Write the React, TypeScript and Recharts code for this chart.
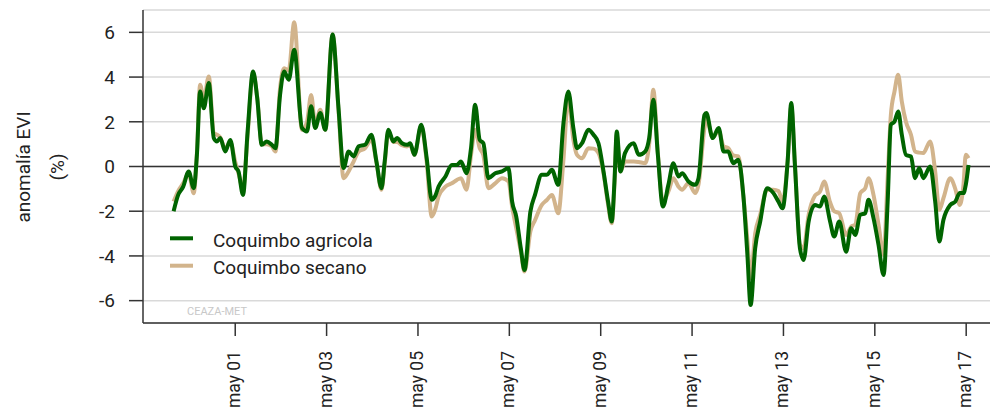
import React from 'react';
import { LineChart, Line, XAxis, YAxis, CartesianGrid, ReferenceLine, Legend, Label } from 'recharts';

// decimal-year sample times
const times = [
  1999.98, 2000.08, 2000.19, 2000.31, 2000.42, 2000.49, 2000.56, 2000.64, 2000.75, 2000.86,
  2000.93, 2001.00, 2001.11, 2001.22, 2001.33, 2001.40, 2001.50, 2001.60, 2001.72, 2001.81,
  2001.91, 2002.02, 2002.13, 2002.21, 2002.31, 2002.40, 2002.50, 2002.62, 2002.79, 2002.90,
  2002.99, 2003.08, 2003.19, 2003.30, 2003.46, 2003.59, 2003.70, 2003.81, 2003.92, 2004.03,
  2004.17, 2004.31, 2004.42, 2004.53, 2004.60, 2004.68, 2004.79, 2004.87, 2004.98, 2005.09,
  2005.16, 2005.25, 2005.40, 2005.52, 2005.63, 2005.71, 2005.78, 2005.93, 2006.07, 2006.18,
  2006.27, 2006.39, 2006.49, 2006.58, 2006.68, 2006.76, 2006.87, 2007.02, 2007.17, 2007.31,
  2007.39, 2007.48, 2007.58, 2007.66, 2007.79, 2007.89, 2008.04, 2008.15, 2008.26, 2008.40,
  2008.51, 2008.62, 2008.73, 2008.81, 2008.92, 2009.06, 2009.17, 2009.28, 2009.39, 2009.49,
  2009.57, 2009.63, 2009.68, 2009.76, 2009.86, 2010.05, 2010.16, 2010.30, 2010.39, 2010.48,
  2010.58, 2010.69, 2010.81, 2010.92, 2011.03, 2011.11, 2011.25, 2011.40, 2011.47, 2011.60,
  2011.64, 2011.78, 2011.91, 2012.02, 2012.12, 2012.23, 2012.34, 2012.45, 2012.54, 2012.61,
  2012.71, 2012.82, 2012.97, 2013.11, 2013.22, 2013.31, 2013.42, 2013.50, 2013.58, 2013.69,
  2013.77, 2013.88, 2014.02, 2014.13, 2014.22, 2014.35, 2014.44, 2014.55, 2014.70, 2014.81,
  2014.90, 2015.01, 2015.12, 2015.19, 2015.30, 2015.41, 2015.52, 2015.61, 2015.68, 2015.76,
  2015.84, 2015.92, 2016.01, 2016.12, 2016.21, 2016.30, 2016.39, 2016.54, 2016.65, 2016.74,
  2016.83, 2016.98, 2017.09, 2017.19, 2017.27, 2017.32, 2017.38,
];

const agricola = [
  -2.0, -1.27, -0.9, -0.22, -0.97, 0.52, 3.36, 2.6, 3.73, 1.27,
  1.12, 1.27, 0.67, 1.19, 0.0, -0.22, -1.27, 1.57, 4.25, 3.06,
  0.97, 1.12, 0.97, 0.82, 3.2, 4.25, 3.88, 5.22, 1.72, 1.57,
  2.69, 1.72, 2.39, 1.64, 5.9, 2.6, -0.07, 0.67, 0.45, 0.9,
  0.97, 1.42, 0.22, -0.97, 0.22, 1.64, 1.12, 1.27, 1.04, 0.97,
  1.04, 0.52, 1.87, 0.37, -1.49, -1.3, -0.9, -0.45, 0.07, 0.07,
  0.22, -0.3, 0.82, 2.76, 1.19, 1.04, -0.52, -0.3, -0.22, -0.07,
  -1.57, -2.24, -3.66, -4.63, -2.01, -1.27, -0.37, -0.37, -0.15, -0.82,
  1.87, 3.36, 1.72, 0.82, 1.04, 1.64, 1.42, 1.04, -0.22, -1.57,
  -2.46, -0.67, 1.57, -0.22, 0.6, 1.04, 0.52, 0.67, 1.27, 2.99,
  0.52, -1.79, -0.82, 0.15, -0.45, -0.3, -0.67, -0.82, -0.52, 2.31,
  2.39, 1.27, 1.72, 0.67, 0.67, 0.15, 0.3, -1.27, -3.96, -6.2,
  -3.66, -2.46, -0.97, -1.19, -1.57, -1.87, 0.22, 2.84, 0.07, -3.66,
  -4.18, -2.46, -1.72, -1.79, -1.34, -2.46, -3.13, -2.46, -3.81, -2.76,
  -3.06, -2.16, -2.09, -1.49, -2.31, -3.51, -4.85, -1.57, 1.87, 2.01,
  2.46, 1.42, 0.52, 0.45, -0.52, -0.07, -0.52, 0.0, -1.57, -3.36,
  -2.39, -1.72, -1.57, -1.19, -1.19, -0.82, 0.07,
];

const secano = [
  -1.57, -1.1, -0.75, -0.3, -1.2, 0.6, 3.66, 3.0, 4.03, 1.5,
  1.42, 1.3, 0.8, 1.1, 0.2, -0.3, -1.0, 1.4, 4.18, 3.1,
  1.0, 1.0, 0.9, 0.67, 3.5, 4.4, 4.3, 6.45, 1.64, 2.0,
  3.2, 1.87, 2.54, 1.64, 5.9, 2.5, -0.52, -0.22, 0.22, 0.67,
  0.82, 1.2, 0.2, -1.04, 0.1, 1.57, 1.1, 1.1, 0.95, 0.9,
  0.95, 0.52, 1.8, 0.2, -2.24, -1.9, -1.34, -0.9, -0.75, -0.6,
  -0.52, -1.04, 0.52, 1.64, 0.82, 0.5, -0.97, -0.75, -0.52, -0.67,
  -1.8, -2.76, -3.8, -4.7, -2.9, -2.4, -1.72, -1.5, -1.27, -2.09,
  0.22, 3.1, 1.2, 0.52, 0.37, 0.82, 0.8, 0.6, -0.3, -1.7,
  -2.54, -0.8, 1.42, -0.22, 0.22, 0.22, 0.2, 0.15, 1.0, 3.43,
  0.6, -1.57, -1.12, -0.52, -0.9, -1.04, -0.75, -1.19, -0.8, 1.72,
  2.16, 1.3, 1.6, 0.9, 0.82, 0.5, 0.45, -1.3, -3.3, -5.0,
  -3.0, -2.16, -1.04, -1.04, -1.1, -1.57, 0.22, 2.7, 0.1, -3.5,
  -3.66, -2.16, -1.3, -1.12, -0.67, -1.6, -2.0, -2.09, -3.06, -2.69,
  -2.6, -1.19, -0.97, -0.52, -1.27, -2.6, -3.96, -0.5, 2.31, 3.36,
  4.1, 2.9, 2.0, 1.42, 0.67, 0.62, 0.6, 1.12, -0.22, -1.94,
  -1.42, -0.52, -1.0, -1.72, -0.8, 0.52, 0.37,
];

const seriesNames = ['Coquimbo agricola', 'Coquimbo secano'];
const tickYears = [2001, 2003, 2005, 2007, 2009, 2011, 2013, 2015, 2017];
const yTicks = [-6, -4, -2, 0, 2, 4, 6];

const GREEN = '#006400';
const TAN = '#d2b48c';
const FONT = 'Roboto, "Liberation Sans", Arial, sans-serif';
const MAY1 = 120 / 365;

const data = times.map((t, i) => ({ t, agricola: agricola[i], secano: secano[i] }));
const xTicks = tickYears.map((y) => y + MAY1);

const fmtX = (v: number) => {
  const yr = Math.round(v - MAY1) % 100;
  return 'may ' + String(yr).padStart(2, '0');
};

const XTick = (props: any) => {
  const { x, y, payload } = props;
  return (
    <text
      transform={`translate(${x + 5},${y + 13}) rotate(-90)`}
      textAnchor="end"
      fontSize={17.5}
      fill="#222"
      fontFamily={FONT}
    >
      {fmtX(payload.value)}
    </text>
  );
};

const LegendContent = () => (
  <svg width={260} height={62} style={{ display: 'block' }}>
    <line x1={10} x2={33} y1={16.3} y2={16.3} stroke={GREEN} strokeWidth={4} />
    <text x={53} y={25.3} fontSize={19} fill="#222" fontFamily={FONT}>{seriesNames[0]}</text>
    <line x1={10} x2={33} y1={43.7} y2={43.7} stroke={TAN} strokeWidth={4} />
    <text x={53} y={52} fontSize={19} fill="#222" fontFamily={FONT}>{seriesNames[1]}</text>
  </svg>
);

export default function App() {
  return (
    <div style={{ position: 'absolute', left: 0, top: 0, width: 990, height: 412, background: '#fff' }}>
      <LineChart width={990} height={412} data={data} margin={{ top: 10, right: 0, bottom: 0, left: 0 }}>
        <CartesianGrid vertical={false} stroke="#d9d9d9" strokeWidth={1.5} />
        <XAxis
          type="number"
          dataKey="t"
          domain={[1999.31, 2017.85]}
          ticks={xTicks}
          interval={0}
          allowDataOverflow
          height={89}
          tickSize={13}
          tick={<XTick />}
          axisLine={{ stroke: '#333', strokeWidth: 1.5 }}
          tickLine={{ stroke: '#333', strokeWidth: 1.5 }}
        />
        <YAxis
          type="number"
          domain={[-7, 7]}
          ticks={yTicks}
          interval={0}
          width={143}
          tickSize={14}
          tickMargin={14}
          tick={{ fontSize: 19, fill: '#222', fontFamily: FONT }}
          axisLine={{ stroke: '#333', strokeWidth: 1.5 }}
          tickLine={{ stroke: '#333', strokeWidth: 1.5 }}
        >
          <Label
            content={() => (
              <g fontFamily={FONT} fontSize={19} fill="#222">
                <text transform="translate(30,167) rotate(-90)" textAnchor="middle">anomalía EVI</text>
                <text transform="translate(64,167) rotate(-90)" textAnchor="middle">(%)</text>
              </g>
            )}
          />
        </YAxis>
        <ReferenceLine y={0} stroke="#333" strokeWidth={1.5} />
        <Line
          type="monotone"
          dataKey="secano"
          name={seriesNames[1]}
          stroke={TAN}
          strokeWidth={4}
          dot={false}
          isAnimationActive={false}
        />
        <Line
          type="monotone"
          dataKey="agricola"
          name={seriesNames[0]}
          stroke={GREEN}
          strokeWidth={4}
          dot={false}
          isAnimationActive={false}
        />
        <Legend
          layout="vertical"
          align="center"
          verticalAlign="middle"
          content={<LegendContent />}
          wrapperStyle={{ position: 'absolute', left: 160, top: 222, width: 260, height: 62 }}
        />
      </LineChart>
      <svg width={120} height={20} style={{ position: 'absolute', left: 180, top: 300 }}>
        <text x={7} y={15} fontSize={11} fill="#c8c8c8" fontFamily={FONT}>CEAZA-MET</text>
      </svg>
    </div>
  );
}
